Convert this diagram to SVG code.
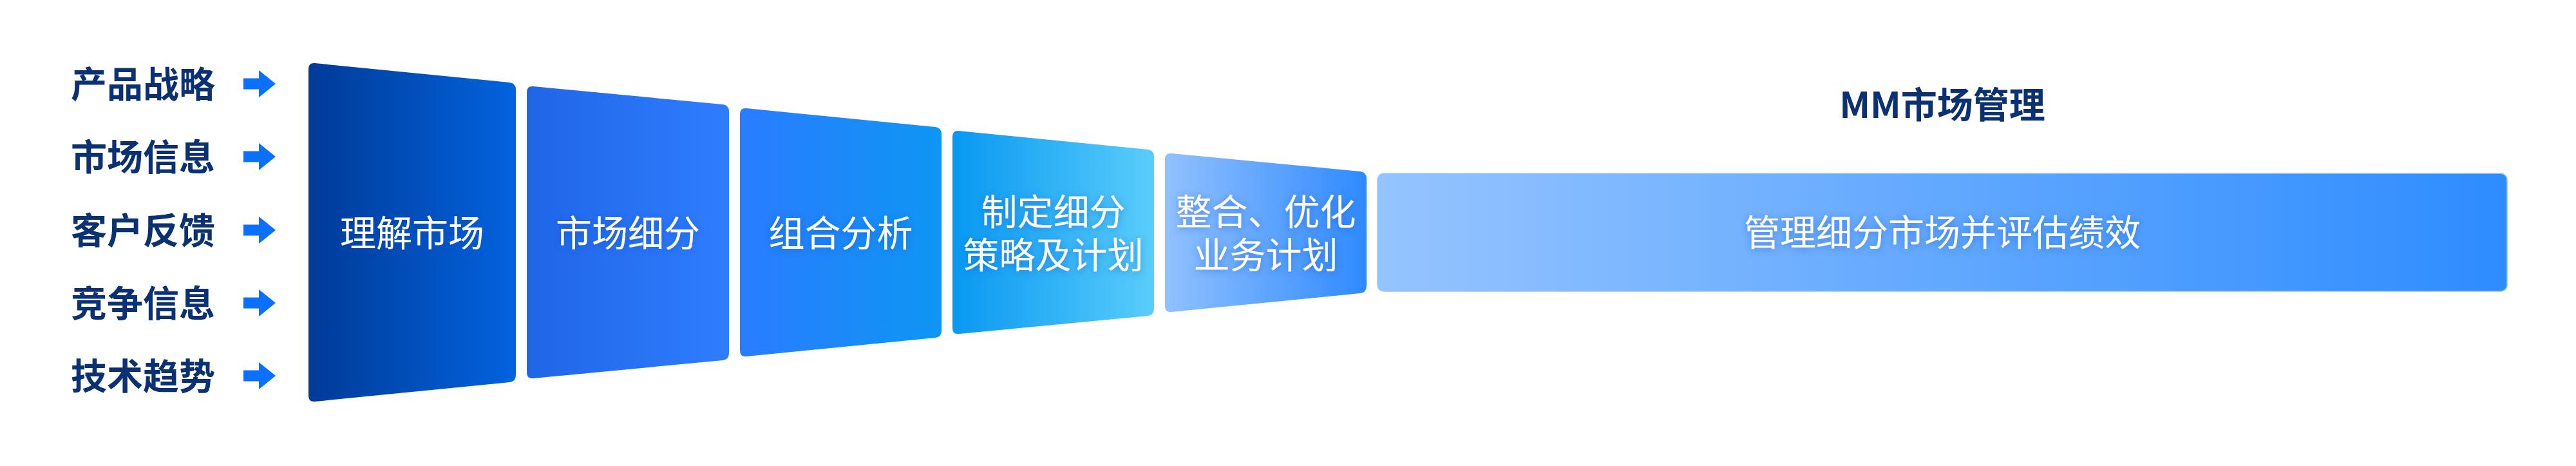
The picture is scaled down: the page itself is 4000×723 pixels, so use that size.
<svg xmlns="http://www.w3.org/2000/svg" width="4000" height="723" viewBox="0 0 4000 723">
<style>
.lbl{font-family:"Noto Sans CJK SC","Noto Sans",sans-serif;font-weight:700;font-size:56px;fill:#0a3171}
.title{font-family:"Noto Sans CJK SC","Noto Sans",sans-serif;font-weight:700;font-size:56px;fill:#0a3171;text-anchor:middle}
.ct{font-family:"Noto Sans CJK SC","Noto Sans",sans-serif;font-weight:400;font-size:56px;fill:#ffffff;text-anchor:middle;filter:url(#glow)}
.arr{fill:#0c70ff}
</style>
<defs>
<linearGradient id="g1" x1="0" y1="0" x2="1" y2="0"><stop offset="0" stop-color="#003a97"/><stop offset="1" stop-color="#0363de"/></linearGradient>
<linearGradient id="g2" x1="0" y1="0" x2="1" y2="0"><stop offset="0" stop-color="#1f66e6"/><stop offset="1" stop-color="#2f7dff"/></linearGradient>
<linearGradient id="g3" x1="0" y1="0" x2="1" y2="0"><stop offset="0" stop-color="#2a7cff"/><stop offset="1" stop-color="#0e96f3"/></linearGradient>
<linearGradient id="g4" x1="0" y1="0" x2="1" y2="0"><stop offset="0" stop-color="#0898f2"/><stop offset="1" stop-color="#5acdfa"/></linearGradient>
<linearGradient id="g5" x1="0" y1="0" x2="1" y2="0"><stop offset="0" stop-color="#91c1ff"/><stop offset="1" stop-color="#2f8aff"/></linearGradient>
<linearGradient id="g6" x1="0" y1="0" x2="1" y2="0"><stop offset="0" stop-color="#95c4ff"/><stop offset="1" stop-color="#2e8cff"/></linearGradient>
<filter id="glow" x="-20%" y="-40%" width="140%" height="180%">
<feDropShadow dx="0" dy="2" stdDeviation="6" flood-color="#1546c8" flood-opacity="0.45"/>
</filter>
</defs>
<rect width="4000" height="723" fill="#ffffff"/>

<g id="inputs">
<g id="in1"><text class="lbl" x="110" y="151">产品战略</text></g>
<g id="in2"><text class="lbl" x="110" y="264">市场信息</text></g>
<g id="in3"><text class="lbl" x="110" y="378">客户反馈</text></g>
<g id="in4"><text class="lbl" x="110" y="491">竞争信息</text></g>
<g id="in5"><text class="lbl" x="110" y="604">技术趋势</text></g>
</g>

<g id="connectors">
<path class="arr" d="M378,121.5 H402 V109 L428,130 L402,151 V138.5 H378 Z"/>
<path class="arr" d="M378,234.5 H402 V222 L428,243 L402,264 V251.5 H378 Z"/>
<path class="arr" d="M378,348.5 H402 V336 L428,357 L402,378 V365.5 H378 Z"/>
<path class="arr" d="M378,461.5 H402 V449 L428,470 L402,491 V478.5 H378 Z"/>
<path class="arr" d="M378,574.5 H402 V562 L428,583 L402,604 V591.5 H378 Z"/>
</g>

<g id="card1">
<path fill="url(#g1)" d="M479,107 Q479,97 489,98 L791,128 Q801,129 801,139 L801,582 Q801,592 791,593 L489,623 Q479,624 479,614 Z"/>
<text class="ct" x="640" y="382">理解市场</text>
</g>
<g id="card2">
<path fill="url(#g2)" d="M818,143 Q818,133 828,134 L1122,162 Q1132,163 1132,173 L1132,548 Q1132,558 1122,559 L828,587 Q818,588 818,578 Z"/>
<text class="ct" x="975" y="382">市场细分</text>
</g>
<g id="card3">
<path fill="url(#g3)" d="M1149,177 Q1149,167 1159,168 L1452,197 Q1462,198 1462,208 L1462,513 Q1462,523 1452,524 L1159,553 Q1149,554 1149,544 Z"/>
<text class="ct" x="1305.5" y="382">组合分析</text>
</g>
<g id="card4">
<path fill="url(#g4)" d="M1479,212 Q1479,202 1489,203 L1782,232 Q1792,233 1792,243 L1792,479 Q1792,489 1782,490 L1489,518 Q1479,519 1479,509 Z"/>
<text class="ct" x="1635.5" y="349">制定细分</text>
<text class="ct" x="1635.5" y="416">策略及计划</text>
</g>
<g id="card5">
<path fill="url(#g5)" d="M1809,247 Q1809,237 1819,238 L2112,266 Q2122,267 2122,277 L2122,444 Q2122,454 2112,455 L1819,484 Q1809,485 1809,475 Z"/>
<text class="ct" x="1965.5" y="349">整合、优化</text>
<text class="ct" x="1965.5" y="416">业务计划</text>
</g>
<g id="manage">
<rect x="2139" y="269" width="1754" height="183" rx="10" fill="url(#g6)" stroke="#9ccaff" stroke-width="1.5"/>
<text class="ct" x="3016" y="381">管理细分市场并评估绩效</text>
</g>
<g id="title">
<text class="title" x="3016" y="183">MM市场管理</text>
</g>
</svg>
